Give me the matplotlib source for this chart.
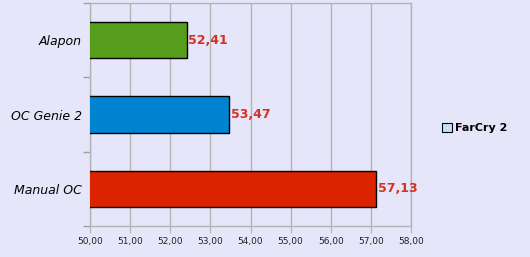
import matplotlib
matplotlib.use("Agg")
import matplotlib.pyplot as plt
from matplotlib.patches import Patch

categories = ["Manual OC", "OC Genie 2", "Alapon"]
values = [57.13, 53.47, 52.41]
bar_colors = ["#dc2300", "#0084d1", "#579d1c"]
xticks = [50, 51, 52, 53, 54, 55, 56, 57, 58]
series_name = "FarCry 2"

bg = "#e6e6fa"
fig = plt.figure(figsize=(5.30, 2.57), dpi=100, facecolor=bg)
ax = fig.add_axes([90/530, 1-226/257, (411-90)/530, (226-3)/257])
ax.set_facecolor(bg)

y = list(range(len(categories)))
ax.barh(y, values, height=0.49, left=0, color=bar_colors, edgecolor="black", linewidth=1.0, zorder=3)
ax.set_xlim(50, 58)
ax.set_ylim(-0.5, len(categories) - 0.5)

ax.set_xticks(xticks)
ax.set_xticklabels([f"{v:.2f}".replace(".", ",") for v in xticks], fontsize=6.5, color="#222222")
ax.xaxis.grid(True, color="#b3b3b3", linewidth=1.0, zorder=0)
ax.tick_params(axis="x", length=5, color="#b3b3b3", pad=3)

ax.set_yticks([yy for yy in y])
ax.set_yticklabels(categories, fontsize=9, style="italic", family="DejaVu Sans")
ax.tick_params(axis="y", length=0, pad=6)
ax.set_yticks([-0.5, 0.5, 1.5, 2.5], minor=True)
ax.tick_params(axis="y", which="minor", length=5, width=1.0, color="#a0a0a0")

for s in ax.spines.values():
    s.set_color("#b3b3b3")
    s.set_linewidth(1.0)

for yy, v in zip(y, values):
    ax.text(v + 0.04, yy, f"{v:.2f}".replace(".", ","), va="center", ha="left",
            fontsize=9, fontweight="bold", color="#d7301f", zorder=4)

handle = Patch(facecolor="#c6e0fa", edgecolor="black", linewidth=0.8)
fig.legend([handle], [series_name], loc="center left", bbox_to_anchor=(432/530, 1-128/257),
           frameon=False, handlelength=0.9, handleheight=0.9, handletextpad=0.3,
           prop={"weight": "bold", "size": 8})

fig.savefig("out.png", dpi=100, facecolor=bg)
